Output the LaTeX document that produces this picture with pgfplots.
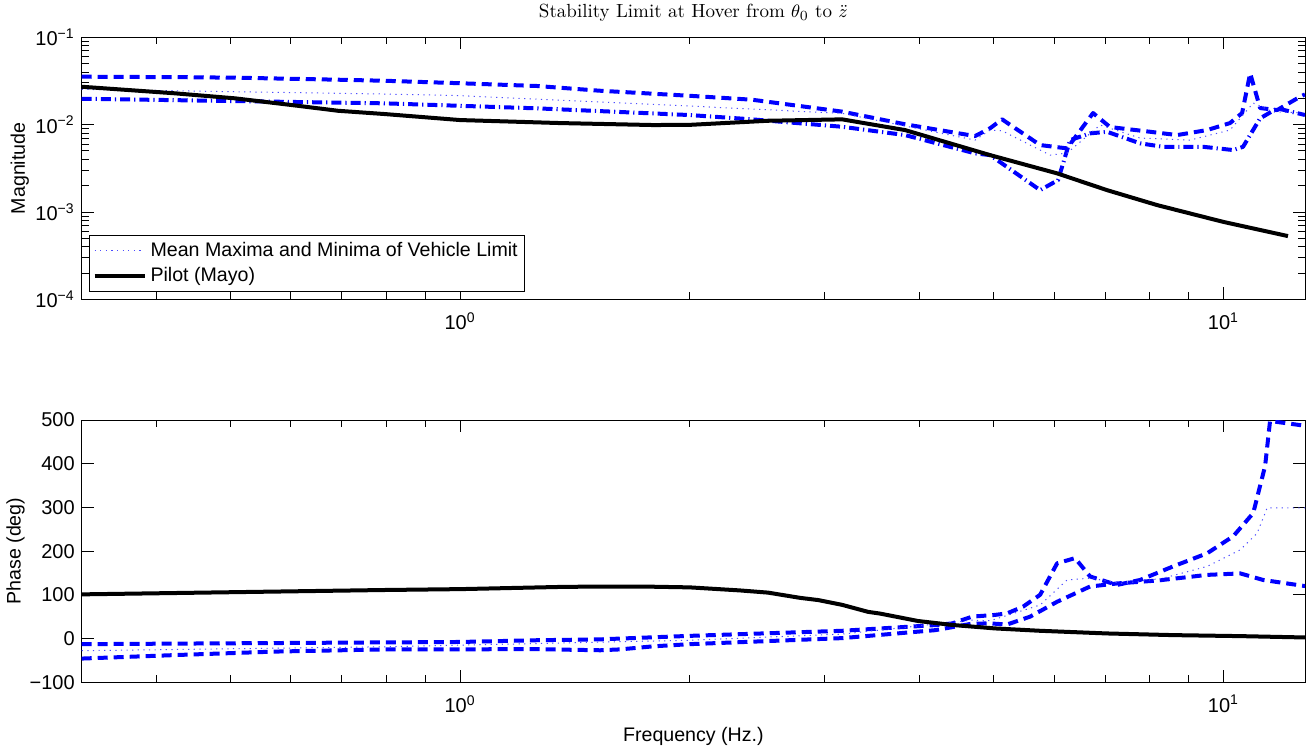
\documentclass[border=0pt]{standalone}
\usepackage{fontspec}
\setsansfont{Liberation Sans}
\usepackage{pgfplots}
\pgfplotsset{compat=1.18}

\definecolor{mblue}{rgb}{0,0,1}
\definecolor{meanblue}{rgb}{0.3,0.3,1}

\tikzset{
  maxline/.style={mblue, line width=2pt, dash pattern=on 5pt off 3pt, line join=round},
  minline/.style={mblue, line width=2pt, dash pattern=on 5pt off 2pt on 0.6pt off 2pt, line join=round},
  meanline/.style={meanblue, line width=0.5pt, dash pattern=on 0.6pt off 2.2pt},
  pilot/.style={black, line width=2pt, line join=round},
}

\begin{document}
\begin{tikzpicture}
\path[use as bounding box] (-40.85pt,149.65pt) rectangle (614.5pt,-224pt);

% magnitude
\begin{axis}[at={(0,0)}, anchor=south west,
  xmode=log, ymode=log, scale only axis, width=611.5pt, height=131pt,
  xmin=0.3194, xmax=12.79, ymin=1e-4, ymax=1e-1,
  xtick={1,10}, xticklabels={10\textsuperscript{0},10\textsuperscript{1}},
  minor xtick={0.4,0.5,0.6,0.7,0.8,0.9,2,3,4,5,6,7,8,9},
  ytick={1e-4,1e-3,1e-2,1e-1},
  yticklabels={10\textsuperscript{−4},10\textsuperscript{−3},10\textsuperscript{−2},10\textsuperscript{−1}},
  minor ytick={2e-4,3e-4,4e-4,5e-4,6e-4,7e-4,8e-4,9e-4,2e-3,3e-3,4e-3,5e-3,6e-3,7e-3,8e-3,9e-3,2e-2,3e-2,4e-2,5e-2,6e-2,7e-2,8e-2,9e-2},
  tick align=inside, major tick length=6pt, minor tick length=3.5pt,
  tick style={black, line width=0.5pt},
  ticklabel style={font=\fontsize{10}{12}\sffamily},
  xticklabel style={yshift=-3pt},
  axis line style={line width=0.5pt},
  ylabel={Magnitude},
  ylabel style={font=\fontsize{9.8}{12}\sffamily, at={(axis description cs:-0.0505,0.5)}, anchor=center},
  title={Stability Limit at Hover from $\theta_0$ to $\ddot{z}$},
  title style={font=\fontsize{9.5}{11}\rmfamily, at={(axis description cs:0.5,1)}, anchor=south, yshift=-1.5pt},
  legend cell align=left,
  legend image code/.code={\draw[#1] (0pt,0pt) -- (25pt,0pt);},
  legend style={at={(axis description cs:0.006,0.028)}, anchor=south west,
    draw=black, line width=0.5pt, font=\fontsize{9.8}{12}\sffamily,
    inner sep=1.5pt, row sep=0pt},
]
\addplot[maxline, forget plot] coordinates {
  (0.3194,0.0354) (0.4232,0.0350) (0.5073,0.0345) (0.6018,0.0335) (0.6920,0.0327)
  (0.7974,0.0318) (1.0,0.0298) (1.2616,0.0277) (1.52,0.0245) (2.0,0.0214)
  (2.413,0.0193) (3.166,0.0141) (3.828,0.0101) (4.728,0.0074) (4.947,0.0091)
  (5.129,0.0115) (5.753,0.00584) (6.24,0.00535) (6.749,0.01358) (7.104,0.00939)
  (8.017,0.00829) (8.697,0.0076) (9.52,0.00867) (10.2,0.01043) (10.58,0.01358)
  (10.84,0.0387) (11.17,0.01549) (11.76,0.01469) (12.6,0.02088) (12.79,0.0222)
};
\addplot[minline, forget plot] coordinates {
  (0.3194,0.0198) (0.7974,0.01754) (1.2616,0.01537) (2.0,0.01288) (2.413,0.0115)
  (3.166,0.00946) (3.828,0.0076) (4.728,0.00469) (4.947,0.00448) (5.753,0.00178)
  (6.073,0.00232) (6.297,0.00666) (6.688,0.00795) (7.04,0.00829) (7.78,0.00611)
  (8.337,0.00558) (9.406,0.00558) (10.3,0.00512) (10.61,0.00558) (11.17,0.01181)
  (11.76,0.01537) (12.79,0.0129)
};
\addplot[meanline] coordinates {
  (0.3194,0.02537) (0.7974,0.02242) (1.0,0.0215) (2.0,0.01633) (3.166,0.01347)
  (4.728,0.00666) (4.947,0.00867) (5.129,0.0085) (5.929,0.00448) (6.24,0.00473)
  (6.893,0.0099) (7.78,0.00702) (9.044,0.00666) (10.2,0.00867) (10.94,0.01768)
  (11.62,0.01394) (12.79,0.0137)
};
\addlegendentry{Mean Maxima and Minima of Vehicle Limit}
\addplot[pilot] coordinates {
  (0.3194,0.02717) (0.4232,0.02284) (0.5073,0.02001) (0.6018,0.01677) (0.692,0.01442)
  (0.7974,0.01322) (1.0,0.01129) (1.352,0.01043) (1.79,0.0099) (2.0,0.00995)
  (2.532,0.01108) (3.166,0.0115) (3.828,0.00867) (4.947,0.00448) (6.055,0.00277)
  (7.04,0.00178) (8.188,0.0012) (9.99,0.000772) (12.15,0.00053)
};
\addlegendentry{Pilot (Mayo)}
\end{axis}

% phase
\begin{axis}[at={(0,-191.35pt)}, anchor=south west,
  xmode=log, scale only axis, width=611.5pt, height=131pt,
  xmin=0.3194, xmax=12.79, ymin=-100, ymax=500,
  xtick={1,10}, xticklabels={10\textsuperscript{0},10\textsuperscript{1}},
  minor xtick={0.4,0.5,0.6,0.7,0.8,0.9,2,3,4,5,6,7,8,9},
  ytick={-100,0,100,200,300,400,500},
  yticklabels={−100,0,100,200,300,400,500},
  tick align=inside, major tick length=6pt, minor tick length=3.5pt,
  tick style={black, line width=0.5pt},
  ticklabel style={font=\fontsize{10}{12}\sffamily},
  xticklabel style={yshift=-3pt},
  axis line style={line width=0.5pt},
  ylabel={Phase (deg)},
  ylabel style={font=\fontsize{9.8}{12}\sffamily, at={(axis description cs:-0.054,0.5)}, anchor=center},
  xlabel={Frequency (Hz.)},
  xlabel style={font=\fontsize{9.8}{12}\sffamily, at={(axis description cs:0.5,0)}, anchor=north, yshift=-19pt},
]
\addplot[maxline] coordinates {
  (0.3194,-13) (0.7974,-9) (1.0,-8) (1.2616,-4) (1.526,-2) (2.0,6) (3.166,17.6)
  (4.191,30.6) (4.412,34.5) (4.686,50) (5.022,54) (5.207,57.5) (5.466,73)
  (5.753,100) (6.055,172) (6.392,184) (6.688,142) (7.255,122.6) (7.78,134)
  (8.593,165) (9.52,195) (10.3,234) (10.94,287) (11.34,395) (11.51,498) (12.79,487)
};
\addplot[maxline] coordinates {
  (0.3194,-46) (0.4232,-38) (0.5725,-30) (0.7974,-25) (1.2616,-24.5) (1.526,-27)
  (1.62,-25) (1.79,-18) (2.0,-13) (3.166,0.8) (4.191,19) (4.686,34) (4.947,34.5)
  (5.207,32) (5.582,50) (6.055,84) (6.688,119) (7.255,126) (8.188,132.6)
  (9.52,145.6) (10.52,149) (11.27,134) (12.79,120)
};
\addplot[meanline] coordinates {
  (0.3194,-28) (0.7974,-19) (2.0,-4) (3.166,10) (4.686,42) (4.947,40.6)
  (5.753,76.6) (6.24,134) (6.688,138) (7.388,126) (8.337,138) (9.52,165)
  (10.52,203) (11.07,241) (11.41,299) (12.79,299)
};
\addplot[pilot] coordinates {
  (0.3194,101) (0.7974,111) (1.0,113) (1.352,118) (1.526,119) (1.79,118.5)
  (2.0,117) (2.327,110) (2.532,105) (2.789,93) (2.944,88) (3.166,77) (3.423,61)
  (3.55,57) (3.981,40) (4.412,31) (5.022,23) (5.753,17.6) (7.04,11.5)
  (8.593,7.7) (10.52,5.4) (12.79,2.3)
};
\end{axis}
\end{tikzpicture}
\end{document}
